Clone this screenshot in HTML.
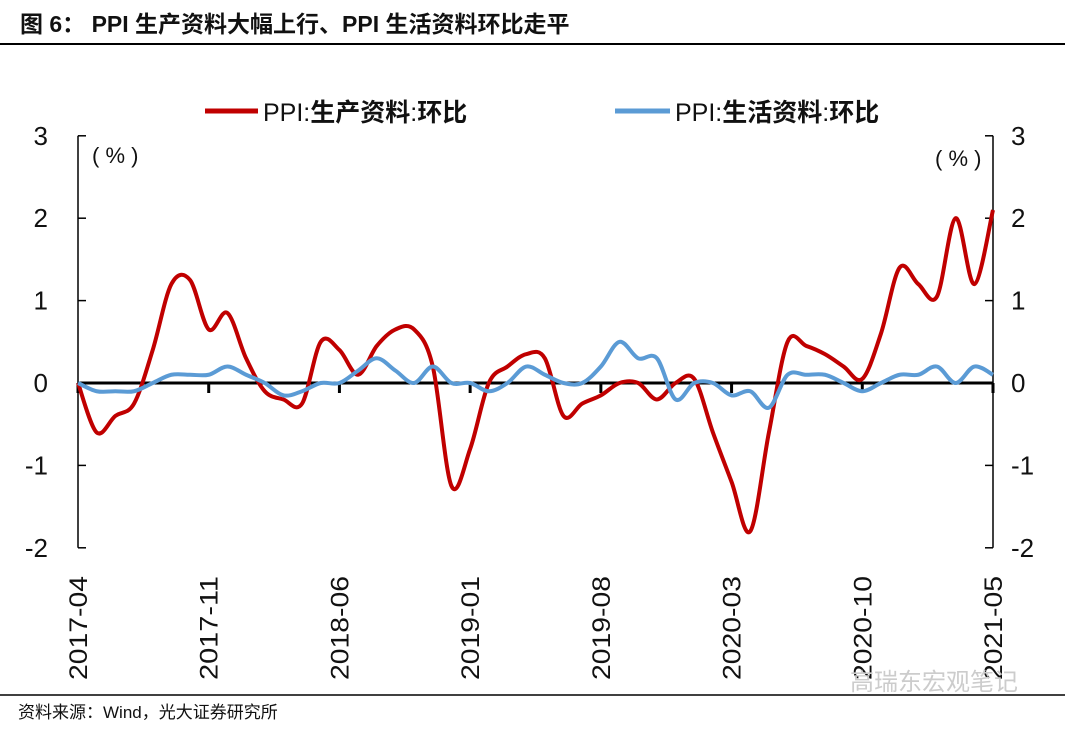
<!DOCTYPE html>
<html><head><meta charset="utf-8"><style>
body{margin:0;background:#fff;}
svg text{font-family:"Liberation Sans","Noto Sans CJK SC",sans-serif;}
</style></head><body>
<svg id="chart" width="1080" height="729" viewBox="0 0 1080 729" xmlns="http://www.w3.org/2000/svg">
<text x="20" y="32" font-size="23" font-weight="bold" fill="#111">图 6：  PPI 生产资料大幅上行、PPI 生活资料环比走平</text>
<line x1="0" y1="44" x2="1065" y2="44" stroke="#000" stroke-width="2"/>
<g>
<line x1="205" y1="111" x2="258" y2="111" stroke="#C00000" stroke-width="5"/>
<text x="263" y="121" font-size="25" fill="#111">PPI:<tspan font-weight="bold">生产资料</tspan>:<tspan font-weight="bold">环比</tspan></text>
<line x1="615" y1="111" x2="670" y2="111" stroke="#5B9BD5" stroke-width="5"/>
<text x="675" y="121" font-size="25" fill="#111">PPI:<tspan font-weight="bold">生活资料</tspan>:<tspan font-weight="bold">环比</tspan></text>
</g>
<text x="92" y="163" font-size="22" fill="#111">( % )</text>
<text x="935" y="166" font-size="22" fill="#111">( % )</text>
<g id="axes"></g>
<g id="series"></g>
<line x1="0" y1="695" x2="1065" y2="695" stroke="#000" stroke-width="1.5"/>
<text x="18" y="718" font-size="17" fill="#111">资料来源：Wind，光大证券研究所</text>
<text x="850" y="690" font-size="24" fill="#ccc">高瑞东宏观笔记</text>
</svg>
<script>
const months=["2017-04","2017-11","2018-06","2019-01","2019-08","2020-03","2020-10","2021-05"];
const yTicks=[-2,-1,0,1,2,3];
const production=[0,-0.6,-0.4,-0.25,0.4,1.2,1.25,0.65,0.85,0.3,-0.1,-0.2,-0.25,0.5,0.4,0.1,0.45,0.65,0.65,0.2,-1.25,-0.8,0.0,0.2,0.35,0.3,-0.4,-0.25,-0.15,0.0,0.0,-0.2,0.0,0.05,-0.6,-1.2,-1.8,-0.6,0.5,0.45,0.35,0.2,0.05,0.6,1.4,1.2,1.05,2.0,1.2,2.1];
const living=[0,-0.1,-0.1,-0.1,0.0,0.1,0.1,0.1,0.2,0.1,0.0,-0.15,-0.1,0.0,0.0,0.15,0.3,0.15,0.0,0.2,0.0,0.0,-0.1,0.0,0.2,0.1,0.0,0.0,0.2,0.5,0.3,0.3,-0.2,0.0,0.0,-0.15,-0.1,-0.3,0.1,0.1,0.1,0.0,-0.1,0.0,0.1,0.1,0.2,0.0,0.2,0.1];
const X0=78,X1=993,Y0=383,UNIT=82.4,N=production.length;
const xs=i=>X0+(X1-X0)*i/(N-1);
const ys=v=>Y0-v*UNIT;
const NS="http://www.w3.org/2000/svg";
const axes=document.getElementById('axes'),ser=document.getElementById('series');
function mk(tag,attrs,parent){const e=document.createElementNS(NS,tag);for(const k in attrs)e.setAttribute(k,attrs[k]);parent.appendChild(e);return e;}
let e;
e=mk('line',{x1:X0,y1:ys(3),x2:X0,y2:ys(-2),stroke:'#000','stroke-width':1.5},axes);


e=mk('line',{x1:X1,y1:ys(3),x2:X1,y2:ys(-2),stroke:'#000','stroke-width':1.5},axes);


yTicks.forEach(v=>{
 e=mk('line',{x1:X0,y1:ys(v),x2:X0+8,y2:ys(v),stroke:'#000','stroke-width':1.5},axes);
 
 
 e=mk('line',{x1:X1-8,y1:ys(v),x2:X1,y2:ys(v),stroke:'#000','stroke-width':1.5},axes);
 
 
 e=mk('text',{x:48,y:ys(v)+9,'font-size':26,'text-anchor':'end',fill:'#111'},axes);e.textContent=v;
 
 
 e=mk('text',{x:1011,y:ys(v)+9,'font-size':26,fill:'#111'},axes);e.textContent=v;
 
 
});
e=mk('line',{x1:X0,y1:Y0,x2:X1,y2:Y0,stroke:'#000','stroke-width':3},axes);


months.forEach((m,k)=>{
 const x=xs(k*7);
 e=mk('line',{x1:x,y1:Y0,x2:x,y2:Y0+10,stroke:'#000','stroke-width':3},axes);
 
 
 e=mk('text',{x:0,y:0,'font-size':25,'text-anchor':'end',fill:'#111',textLength:104,lengthAdjust:'spacingAndGlyphs',transform:`translate(${x+9},576) rotate(-90)`},axes);e.textContent=m;
 
 
});
function path(vals){
 const p=vals.map((v,i)=>[xs(i),ys(v)]);
 let d=`M${p[0][0]},${p[0][1]}`;
 for(let i=0;i<p.length-1;i++){
  const a=p[Math.max(0,i-1)],b=p[i],c=p[i+1],dd=p[Math.min(p.length-1,i+2)];
  const c1=[b[0]+(c[0]-a[0])/6,b[1]+(c[1]-a[1])/6],c2=[c[0]-(dd[0]-b[0])/6,c[1]-(dd[1]-b[1])/6];
  d+=` C${c1[0]},${c1[1]} ${c2[0]},${c2[1]} ${c[0]},${c[1]}`;
 }
 return d;
}
e=mk('path',{d:path(production),fill:'none',stroke:'#C00000','stroke-width':4,'stroke-linejoin':'round'},ser);


e=mk('path',{d:path(living),fill:'none',stroke:'#5B9BD5','stroke-width':4,'stroke-linejoin':'round'},ser);


</script>
</body></html>
